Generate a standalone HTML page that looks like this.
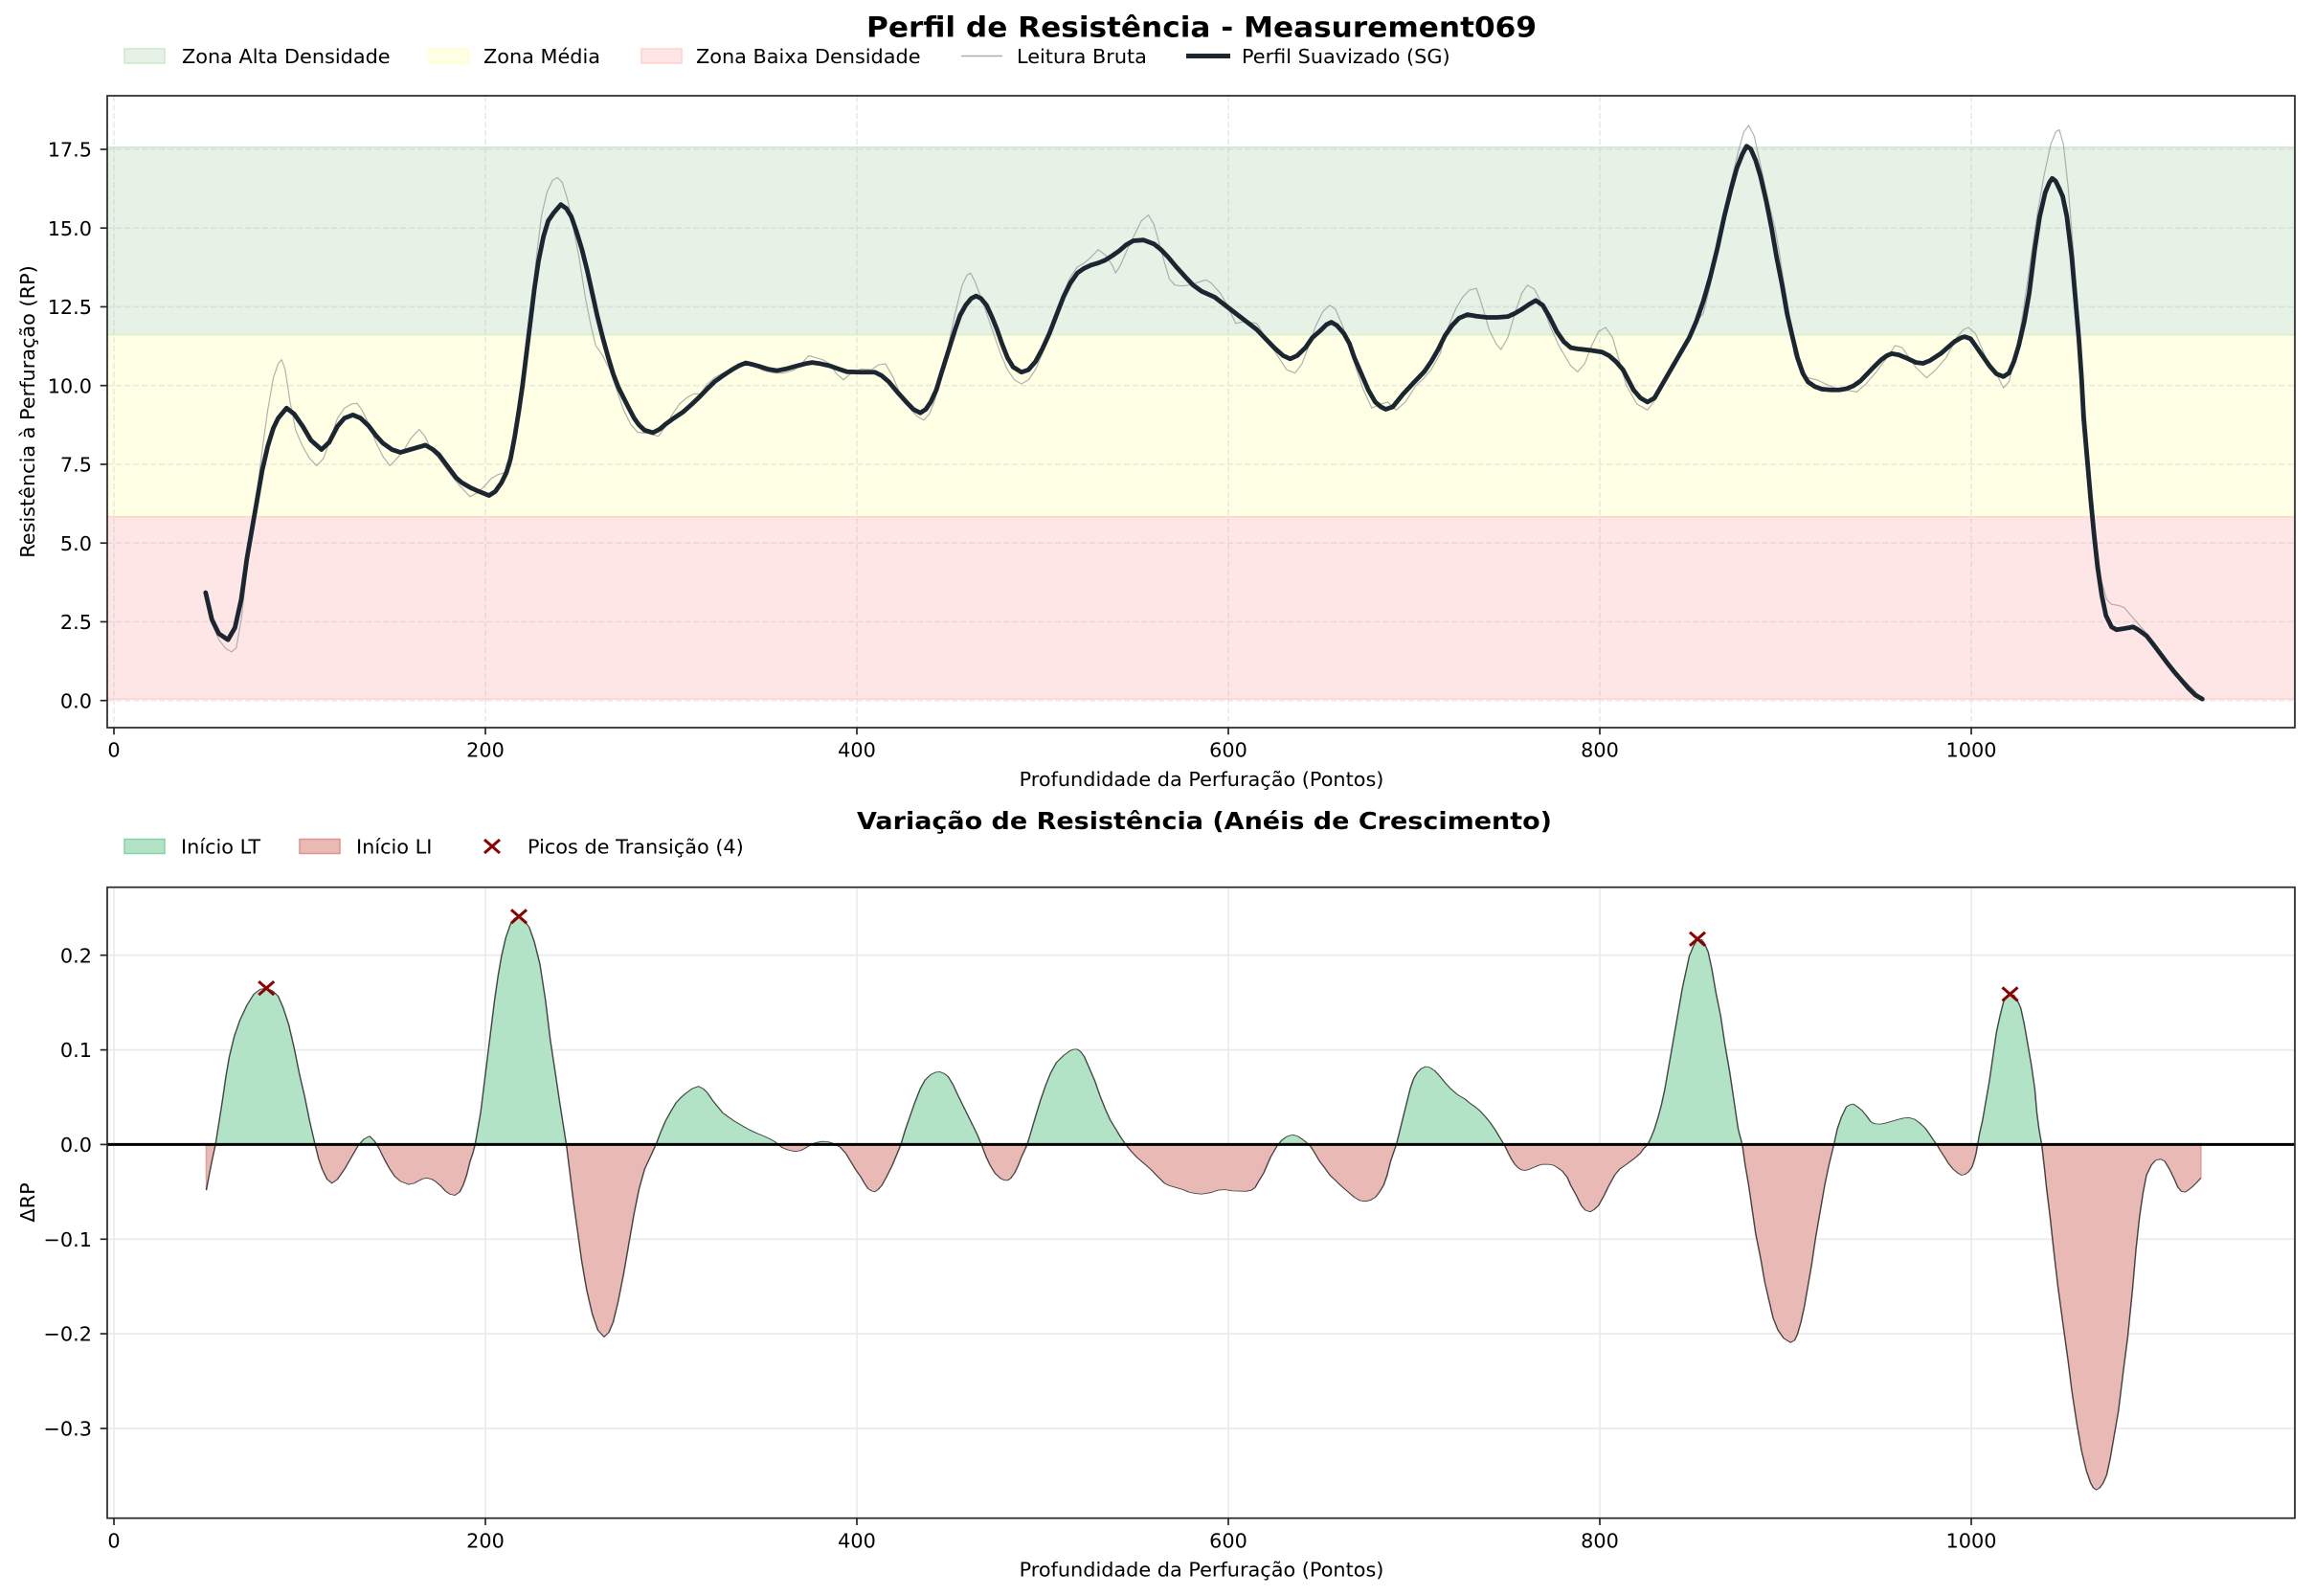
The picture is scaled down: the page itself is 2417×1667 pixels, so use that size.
<!DOCTYPE html>
<html><head><meta charset="utf-8"><style>html,body{margin:0;padding:0;background:#fff}svg{display:block}text{font-family:"DejaVu Sans","Liberation Sans",sans-serif;fill:#000}</style></head><body>
<svg width="2417" height="1667" viewBox="0 0 2417 1667" xmlns="http://www.w3.org/2000/svg">
<rect width="2417" height="1667" fill="#fff"/>
<text x="1255" y="38.5" font-size="29" font-weight="bold" text-anchor="middle" textLength="700" lengthAdjust="spacingAndGlyphs">Perfil de Resistência - Measurement069</text>
<g font-size="20.8">
<rect x="130" y="51" width="42" height="15" fill="#e6f2e6" stroke="#cee6ce" stroke-width="1.5"/><text x="190" y="66">Zona Alta Densidade</text>
<rect x="448" y="51" width="42" height="15" fill="#ffffe6" stroke="#ffffcf" stroke-width="1.5"/><text x="505" y="66">Zona Média</text>
<rect x="670" y="51" width="42" height="15" fill="#ffe6e6" stroke="#ffcfcf" stroke-width="1.5"/><text x="727" y="66">Zona Baixa Densidade</text>
<line x1="1004" y1="58.5" x2="1047" y2="58.5" stroke="#999" stroke-width="1.4" opacity="0.8"/><text x="1062" y="66">Leitura Bruta</text>
<line x1="1239" y1="58.5" x2="1285" y2="58.5" stroke="#1b2631" stroke-width="5"/><text x="1297" y="66">Perfil Suavizado (SG)</text>
</g>
<rect x="112" y="153.9" width="2285" height="195.7" fill="#e6f2e6"/>
<rect x="112" y="349.6" width="2285" height="190.2" fill="#ffffe6"/>
<rect x="112" y="539.8" width="2285" height="190.2" fill="#ffe6e6"/>
<g stroke-width="1.5"><line x1="112" y1="153.9" x2="2397" y2="153.9" stroke="#cee6ce"/><line x1="112" y1="349.6" x2="2397" y2="349.6" stroke="#dcefc4"/><line x1="112" y1="539.8" x2="2397" y2="539.8" stroke="#fcd6c4"/><line x1="112" y1="730" x2="2397" y2="730" stroke="#ffcfcf"/></g>
<g stroke="#b0b0b0" stroke-width="1.7" stroke-dasharray="6.3,2.7" opacity="0.25">
<line x1="119" y1="100" x2="119" y2="760"/><line x1="507" y1="100" x2="507" y2="760"/><line x1="895" y1="100" x2="895" y2="760"/><line x1="1283" y1="100" x2="1283" y2="760"/><line x1="1671" y1="100" x2="1671" y2="760"/><line x1="2059" y1="100" x2="2059" y2="760"/>
<line x1="112" y1="731.7" x2="2397" y2="731.7"/><line x1="112" y1="649.45" x2="2397" y2="649.45"/><line x1="112" y1="567.2" x2="2397" y2="567.2"/><line x1="112" y1="484.95" x2="2397" y2="484.95"/><line x1="112" y1="402.7" x2="2397" y2="402.7"/><line x1="112" y1="320.45" x2="2397" y2="320.45"/><line x1="112" y1="238.2" x2="2397" y2="238.2"/><line x1="112" y1="155.95" x2="2397" y2="155.95"/>
</g>
<g transform="translate(112,100) scale(0.72895,0.42092)" fill="none" stroke-linejoin="round" stroke-linecap="round">
<path vector-effect="non-scaling-stroke" stroke="#999" stroke-width="1.2" opacity="0.75" d="M141,1240 150,1310 160,1350 170,1372 178,1380 185,1370 192,1300 200,1180 208,1060 215,980 222,880 230,780 238,700 245,665 250,655 255,680 262,760 270,830 280,870 290,900 300,918 310,900 320,850 330,800 340,775 350,765 358,763 365,780 375,815 385,860 395,895 405,918 415,900 425,880 435,850 447,828 455,845 465,880 475,900 490,935 505,968 520,995 530,985 540,970 550,950 560,940 570,935 578,920 585,860 592,760 600,640 608,520 615,400 622,300 630,240 638,210 645,203 652,215 660,260 668,330 676,400 685,500 693,570 700,620 710,645 720,680 730,730 740,780 750,815 760,835 775,838 790,845 800,820 810,790 820,765 830,750 840,740 850,740 860,715 870,700 880,690 895,678 905,672 915,660 925,668 940,682 955,688 970,688 985,680 995,665 1005,645 1015,650 1025,655 1035,665 1045,690 1055,705 1065,690 1080,678 1095,680 1105,668 1115,665 1125,695 1135,735 1150,775 1160,795 1170,805 1178,790 1185,760 1195,700 1205,620 1215,540 1225,470 1232,445 1237,440 1243,460 1252,500 1260,540 1270,590 1280,640 1290,680 1300,705 1310,715 1320,705 1330,680 1340,640 1350,590 1360,540 1370,490 1380,450 1390,425 1400,415 1410,400 1420,382 1430,395 1440,420 1445,440 1452,420 1462,380 1472,345 1482,310 1492,296 1500,320 1508,370 1516,420 1522,455 1530,470 1540,472 1550,470 1560,465 1568,460 1575,457 1582,465 1595,490 1605,520 1617,565 1630,560 1647,565 1660,600 1675,640 1690,680 1702,688 1712,665 1722,620 1732,570 1742,535 1752,520 1760,530 1770,570 1780,620 1790,680 1800,730 1812,775 1825,765 1835,760 1847,780 1860,760 1875,720 1887,700 1897,680 1910,640 1920,580 1932,530 1942,500 1952,482 1962,478 1970,520 1980,580 1990,615 1997,630 2007,600 2017,540 2027,490 2035,470 2045,480 2057,520 2067,570 2080,620 2097,670 2107,685 2117,665 2127,620 2137,585 2147,575 2157,600 2167,660 2177,720 2192,765 2207,780 2220,750 2235,700 2247,660 2260,620 2267,600 2277,560 2287,540 2297,470 2307,380 2317,290 2327,210 2337,140 2345,90 2352,73 2360,100 2370,180 2380,260 2390,330 2397,400 2402,460 2410,540 2417,640 2427,690 2437,700 2450,705 2462,715 2475,725 2490,730 2507,735 2520,715 2535,685 2550,650 2562,620 2572,625 2582,650 2592,675 2607,700 2620,680 2635,650 2650,600 2660,580 2667,575 2677,590 2687,630 2697,670 2710,700 2717,725 2725,710 2735,640 2745,540 2755,420 2765,300 2775,200 2785,120 2792,90 2797,84 2803,120 2810,230 2818,400 2827,600 2835,800 2842,950 2850,1100 2857,1200 2865,1250 2872,1262 2882,1265 2890,1270 2900,1290 2910,1310 2920,1330 2930,1350 2945,1385 2960,1420 2975,1450 2990,1475 3002,1497"/>
<path vector-effect="non-scaling-stroke" stroke="#1b2631" stroke-width="4.8" d="M141,1233 150,1300 160,1335 173,1350 183,1320 192,1250 200,1150 208,1070 215,1000 222,930 230,870 238,825 245,800 257,775 268,790 280,820 292,855 307,878 318,860 330,820 340,800 352,792 363,800 375,820 385,843 395,862 408,878 420,885 440,875 456,867 466,877 475,890 490,925 500,948 508,960 520,972 530,980 547,992 556,982 565,960 572,935 578,900 584,845 590,780 595,720 600,650 606,565 612,480 618,410 625,350 632,310 640,290 650,270 658,280 665,300 672,335 680,380 688,435 695,490 702,545 710,600 718,650 725,690 732,722 740,750 748,777 755,800 762,817 770,830 782,836 792,827 800,815 812,800 825,785 838,765 850,745 860,727 870,710 882,695 895,680 905,670 915,663 925,667 935,672 948,679 960,682 972,678 985,672 1000,665 1010,662 1022,665 1035,670 1048,678 1060,685 1080,686 1100,686 1110,695 1120,710 1132,735 1145,760 1155,778 1165,787 1173,778 1180,760 1188,730 1195,690 1205,635 1215,580 1222,545 1230,520 1238,503 1245,497 1252,503 1260,520 1268,550 1275,580 1282,615 1290,650 1298,673 1310,686 1320,680 1330,660 1340,628 1350,590 1360,545 1370,500 1380,465 1390,440 1400,428 1410,420 1420,415 1430,408 1440,397 1450,385 1460,370 1470,360 1485,358 1500,368 1510,382 1520,400 1532,425 1545,450 1556,470 1568,485 1587,500 1617,540 1647,580 1672,625 1685,645 1695,653 1705,645 1717,625 1727,600 1737,585 1747,568 1754,562 1762,570 1772,590 1780,615 1787,650 1797,690 1807,730 1817,760 1825,772 1832,778 1842,772 1857,740 1872,712 1887,685 1897,660 1907,630 1917,595 1927,570 1937,552 1949,543 1962,547 1977,550 1992,550 2007,548 2017,540 2027,530 2037,518 2047,508 2057,520 2067,550 2077,585 2087,610 2097,625 2107,628 2127,632 2142,636 2152,645 2162,660 2172,680 2187,730 2197,750 2207,760 2217,750 2227,720 2237,690 2247,660 2257,630 2267,600 2277,560 2287,510 2297,450 2307,380 2317,300 2327,230 2335,180 2343,145 2349,125 2355,132 2362,160 2369,200 2377,260 2385,330 2392,400 2400,470 2407,540 2415,600 2422,650 2430,690 2437,710 2447,722 2457,728 2470,730 2482,730 2492,727 2502,720 2512,708 2522,690 2532,672 2542,655 2550,645 2557,640 2567,643 2577,650 2592,662 2602,664 2612,657 2627,640 2637,625 2647,610 2657,600 2662,598 2670,603 2677,620 2687,645 2697,670 2707,690 2717,697 2725,688 2732,660 2739,620 2747,560 2754,490 2762,380 2769,300 2777,240 2783,215 2787,205 2792,212 2797,230 2802,250 2808,300 2815,400 2820,500 2825,600 2829,700 2832,800 2837,900 2842,1000 2847,1090 2852,1170 2858,1240 2864,1290 2872,1318 2879,1325 2890,1322 2897,1320 2903,1318 2910,1325 2922,1340 2932,1362 2942,1385 2952,1408 2962,1430 2972,1450 2982,1470 2992,1487 3002,1497"/>
</g>
<rect x="112" y="100" width="2285" height="660" fill="none" stroke="#262626" stroke-width="1.7"/>
<g stroke="#262626" stroke-width="1.7">
<line x1="104.7" y1="731.7" x2="112" y2="731.7"/><line x1="104.7" y1="649.45" x2="112" y2="649.45"/><line x1="104.7" y1="567.2" x2="112" y2="567.2"/><line x1="104.7" y1="484.95" x2="112" y2="484.95"/><line x1="104.7" y1="402.7" x2="112" y2="402.7"/><line x1="104.7" y1="320.45" x2="112" y2="320.45"/><line x1="104.7" y1="238.2" x2="112" y2="238.2"/><line x1="104.7" y1="155.95" x2="112" y2="155.95"/>
<line x1="119" y1="760" x2="119" y2="767.3"/><line x1="507" y1="760" x2="507" y2="767.3"/><line x1="895" y1="760" x2="895" y2="767.3"/><line x1="1283" y1="760" x2="1283" y2="767.3"/><line x1="1671" y1="760" x2="1671" y2="767.3"/><line x1="2059" y1="760" x2="2059" y2="767.3"/>
</g>
<g font-size="20.8" text-anchor="end">
<text x="96" y="739.3">0.0</text><text x="96" y="657">2.5</text><text x="96" y="574.8">5.0</text><text x="96" y="492.5">7.5</text><text x="96" y="410.3">10.0</text><text x="96" y="328">12.5</text><text x="96" y="245.8">15.0</text><text x="96" y="163.5">17.5</text>
</g>
<g font-size="20.8" text-anchor="middle">
<text x="119" y="790.6">0</text><text x="507" y="790.6">200</text><text x="895" y="790.6">400</text><text x="1283" y="790.6">600</text><text x="1671" y="790.6">800</text><text x="2059" y="790.6">1000</text>
<text x="1255" y="821">Profundidade da Perfuração (Pontos)</text>
<text transform="translate(36,430) rotate(-90)">Resistência à Perfuração (RP)</text>
</g>
<text x="1258" y="866" font-size="25" font-weight="bold" text-anchor="middle" textLength="726" lengthAdjust="spacingAndGlyphs">Variação de Resistência (Anéis de Crescimento)</text>
<g font-size="20.8">
<rect x="130" y="876.5" width="42" height="15" fill="#b3e3c7" stroke="#86d2a6" stroke-width="1.5"/><text x="189" y="891.7">Início LT</text>
<rect x="313" y="876.5" width="42" height="15" fill="#e9bab5" stroke="#dc948d" stroke-width="1.5"/><text x="372" y="891.7">Início LI</text>
<path d="M506,877 L522,891 M522,877 L506,891" stroke="#8b0000" stroke-width="3" fill="none"/><text x="551" y="891.7">Picos de Transição (4)</text>
</g>
<g stroke="#b0b0b0" stroke-width="1.7" opacity="0.25">
<line x1="119" y1="927" x2="119" y2="1586"/><line x1="507" y1="927" x2="507" y2="1586"/><line x1="895" y1="927" x2="895" y2="1586"/><line x1="1283" y1="927" x2="1283" y2="1586"/><line x1="1671" y1="927" x2="1671" y2="1586"/><line x1="2059" y1="927" x2="2059" y2="1586"/>
<line x1="112" y1="997.7" x2="2397" y2="997.7"/><line x1="112" y1="1096.6" x2="2397" y2="1096.6"/><line x1="112" y1="1195.4" x2="2397" y2="1195.4"/><line x1="112" y1="1294.3" x2="2397" y2="1294.3"/><line x1="112" y1="1393.1" x2="2397" y2="1393.1"/><line x1="112" y1="1492" x2="2397" y2="1492"/>
</g>
<defs>
<clipPath id="up" clipPathUnits="userSpaceOnUse"><rect x="0" y="-100" width="3200" height="740"/></clipPath>
<clipPath id="dn" clipPathUnits="userSpaceOnUse"><rect x="0" y="640" width="3200" height="1000"/></clipPath>
<path id="dfill" d="M142,640 L142,752 146,715 150,680 155,640 160,585 165,530 170,470 175,420 182,370 190,330 200,293 210,265 219,253 228,250 237,257 245,270 252,298 260,340 268,400 275,460 283,520 290,580 298,640 303,675 308,700 315,725 322,735 330,725 340,700 350,670 360,640 368,625 376,618 383,630 390,650 397,675 405,700 412,718 420,730 432,738 440,735 445,730 452,724 458,722 465,725 470,730 478,742 485,755 491,762 498,765 505,757 510,740 515,715 520,680 524,660 527,640 531,600 535,560 540,490 545,420 550,350 555,280 560,220 565,170 571,125 578,90 584,76 590,72 597,80 605,100 612,135 620,190 628,280 635,380 642,460 648,530 653,585 658,640 663,710 668,780 674,855 680,930 687,1000 695,1060 703,1100 712,1117 719,1105 725,1080 732,1030 740,960 748,880 755,810 762,750 770,700 778,670 786,640 793,608 800,580 808,555 815,535 822,522 830,510 838,500 847,494 854,500 860,510 867,528 875,545 882,560 890,570 900,582 910,592 920,602 930,610 940,617 950,625 957,632 962,640 968,647 975,652 985,656 993,654 998,650 1005,643 1012,636 1018,633 1025,631 1033,632 1040,636 1050,645 1058,660 1065,680 1072,700 1080,720 1085,735 1090,748 1095,754 1100,756 1105,750 1110,740 1117,718 1125,690 1131,665 1137,640 1143,605 1150,570 1157,535 1165,500 1172,478 1180,465 1187,459 1193,458 1199,462 1205,470 1212,490 1220,520 1230,555 1240,590 1247,615 1253,640 1259,668 1265,690 1272,710 1280,723 1285,727 1290,728 1295,722 1300,710 1305,692 1310,670 1314,655 1318,640 1324,605 1330,570 1337,530 1345,490 1352,460 1360,435 1370,418 1380,405 1385,402 1390,402 1395,408 1400,420 1407,448 1415,480 1422,515 1430,550 1437,577 1445,600 1452,620 1460,640 1467,655 1475,670 1485,685 1495,700 1505,718 1515,735 1522,741 1530,745 1540,750 1550,757 1558,760 1568,762 1582,758 1592,752 1602,751 1612,754 1632,755 1640,752 1645,745 1650,730 1657,710 1662,690 1667,670 1672,655 1677,640 1683,628 1689,620 1695,616 1700,615 1706,618 1712,625 1718,633 1725,645 1731,662 1737,680 1745,698 1752,715 1760,728 1767,740 1775,752 1787,770 1795,778 1803,780 1810,777 1817,770 1823,757 1829,740 1834,715 1839,680 1843,660 1847,640 1852,605 1857,570 1862,535 1867,500 1872,475 1877,460 1883,450 1889,445 1895,447 1902,455 1910,470 1917,485 1925,500 1935,515 1945,525 1952,535 1960,545 1967,555 1975,570 1982,585 1988,600 1995,620 2002,640 2007,658 2012,675 2017,688 2022,697 2027,702 2032,703 2038,700 2045,695 2052,690 2057,688 2065,688 2072,690 2078,696 2085,705 2092,720 2097,740 2105,765 2112,790 2118,802 2125,806 2131,800 2137,790 2145,765 2152,740 2160,715 2167,700 2177,688 2187,675 2192,668 2197,660 2202,648 2207,640 2212,622 2217,600 2222,572 2227,540 2232,500 2237,450 2242,400 2247,350 2252,300 2257,250 2262,210 2267,170 2273,145 2279,128 2285,130 2289,140 2294,160 2299,200 2305,260 2312,320 2318,390 2325,460 2331,530 2337,600 2343,640 2347,690 2352,740 2357,800 2362,860 2369,920 2375,980 2381,1025 2387,1070 2394,1100 2402,1120 2412,1131 2418,1125 2422,1110 2427,1080 2432,1040 2437,990 2442,940 2448,870 2455,800 2461,740 2467,690 2474,640 2479,600 2485,570 2492,545 2497,540 2502,538 2508,545 2515,555 2522,570 2527,582 2532,587 2540,588 2547,586 2555,582 2565,577 2574,573 2582,572 2590,576 2597,585 2605,598 2612,615 2617,628 2622,640 2627,655 2632,668 2638,685 2645,700 2652,710 2657,715 2662,713 2667,707 2672,695 2675,680 2678,660 2680,640 2683,610 2687,580 2692,530 2697,480 2702,420 2707,360 2712,320 2717,285 2722,270 2727,265 2732,267 2737,280 2742,300 2747,340 2752,390 2757,440 2762,500 2765,560 2768,600 2772,640 2776,700 2779,750 2784,820 2789,900 2795,990 2802,1080 2810,1180 2815,1250 2822,1330 2829,1400 2836,1450 2842,1480 2846,1492 2850,1497 2855,1492 2860,1480 2865,1460 2870,1420 2876,1360 2882,1300 2889,1200 2895,1120 2902,1000 2907,900 2912,820 2917,760 2922,715 2929,690 2935,678 2942,675 2948,680 2955,700 2962,725 2967,745 2972,755 2977,757 2982,752 2987,745 2993,735 3000,722 L3000,640 Z"/>
<path id="dcurve" d="M142,752 146,715 150,680 155,640 160,585 165,530 170,470 175,420 182,370 190,330 200,293 210,265 219,253 228,250 237,257 245,270 252,298 260,340 268,400 275,460 283,520 290,580 298,640 303,675 308,700 315,725 322,735 330,725 340,700 350,670 360,640 368,625 376,618 383,630 390,650 397,675 405,700 412,718 420,730 432,738 440,735 445,730 452,724 458,722 465,725 470,730 478,742 485,755 491,762 498,765 505,757 510,740 515,715 520,680 524,660 527,640 531,600 535,560 540,490 545,420 550,350 555,280 560,220 565,170 571,125 578,90 584,76 590,72 597,80 605,100 612,135 620,190 628,280 635,380 642,460 648,530 653,585 658,640 663,710 668,780 674,855 680,930 687,1000 695,1060 703,1100 712,1117 719,1105 725,1080 732,1030 740,960 748,880 755,810 762,750 770,700 778,670 786,640 793,608 800,580 808,555 815,535 822,522 830,510 838,500 847,494 854,500 860,510 867,528 875,545 882,560 890,570 900,582 910,592 920,602 930,610 940,617 950,625 957,632 962,640 968,647 975,652 985,656 993,654 998,650 1005,643 1012,636 1018,633 1025,631 1033,632 1040,636 1050,645 1058,660 1065,680 1072,700 1080,720 1085,735 1090,748 1095,754 1100,756 1105,750 1110,740 1117,718 1125,690 1131,665 1137,640 1143,605 1150,570 1157,535 1165,500 1172,478 1180,465 1187,459 1193,458 1199,462 1205,470 1212,490 1220,520 1230,555 1240,590 1247,615 1253,640 1259,668 1265,690 1272,710 1280,723 1285,727 1290,728 1295,722 1300,710 1305,692 1310,670 1314,655 1318,640 1324,605 1330,570 1337,530 1345,490 1352,460 1360,435 1370,418 1380,405 1385,402 1390,402 1395,408 1400,420 1407,448 1415,480 1422,515 1430,550 1437,577 1445,600 1452,620 1460,640 1467,655 1475,670 1485,685 1495,700 1505,718 1515,735 1522,741 1530,745 1540,750 1550,757 1558,760 1568,762 1582,758 1592,752 1602,751 1612,754 1632,755 1640,752 1645,745 1650,730 1657,710 1662,690 1667,670 1672,655 1677,640 1683,628 1689,620 1695,616 1700,615 1706,618 1712,625 1718,633 1725,645 1731,662 1737,680 1745,698 1752,715 1760,728 1767,740 1775,752 1787,770 1795,778 1803,780 1810,777 1817,770 1823,757 1829,740 1834,715 1839,680 1843,660 1847,640 1852,605 1857,570 1862,535 1867,500 1872,475 1877,460 1883,450 1889,445 1895,447 1902,455 1910,470 1917,485 1925,500 1935,515 1945,525 1952,535 1960,545 1967,555 1975,570 1982,585 1988,600 1995,620 2002,640 2007,658 2012,675 2017,688 2022,697 2027,702 2032,703 2038,700 2045,695 2052,690 2057,688 2065,688 2072,690 2078,696 2085,705 2092,720 2097,740 2105,765 2112,790 2118,802 2125,806 2131,800 2137,790 2145,765 2152,740 2160,715 2167,700 2177,688 2187,675 2192,668 2197,660 2202,648 2207,640 2212,622 2217,600 2222,572 2227,540 2232,500 2237,450 2242,400 2247,350 2252,300 2257,250 2262,210 2267,170 2273,145 2279,128 2285,130 2289,140 2294,160 2299,200 2305,260 2312,320 2318,390 2325,460 2331,530 2337,600 2343,640 2347,690 2352,740 2357,800 2362,860 2369,920 2375,980 2381,1025 2387,1070 2394,1100 2402,1120 2412,1131 2418,1125 2422,1110 2427,1080 2432,1040 2437,990 2442,940 2448,870 2455,800 2461,740 2467,690 2474,640 2479,600 2485,570 2492,545 2497,540 2502,538 2508,545 2515,555 2522,570 2527,582 2532,587 2540,588 2547,586 2555,582 2565,577 2574,573 2582,572 2590,576 2597,585 2605,598 2612,615 2617,628 2622,640 2627,655 2632,668 2638,685 2645,700 2652,710 2657,715 2662,713 2667,707 2672,695 2675,680 2678,660 2680,640 2683,610 2687,580 2692,530 2697,480 2702,420 2707,360 2712,320 2717,285 2722,270 2727,265 2732,267 2737,280 2742,300 2747,340 2752,390 2757,440 2762,500 2765,560 2768,600 2772,640 2776,700 2779,750 2784,820 2789,900 2795,990 2802,1080 2810,1180 2815,1250 2822,1330 2829,1400 2836,1450 2842,1480 2846,1492 2850,1497 2855,1492 2860,1480 2865,1460 2870,1420 2876,1360 2882,1300 2889,1200 2895,1120 2902,1000 2907,900 2912,820 2917,760 2922,715 2929,690 2935,678 2942,675 2948,680 2955,700 2962,725 2967,745 2972,755 2977,757 2982,752 2987,745 2993,735 3000,722"/>
</defs>
<g transform="translate(112,927) scale(0.72895,0.42028)">
<g clip-path="url(#up)"><use href="#dfill" fill="#b3e3c7" stroke="none"/></g>
<g clip-path="url(#dn)"><use href="#dfill" fill="#e9bab5" stroke="none"/></g>
<path d="M142,640 L142,752 M3000,640 L3000,722" vector-effect="non-scaling-stroke" stroke="#dca09a" stroke-width="1.5" fill="none"/>
<use href="#dcurve" fill="none" stroke="#000" stroke-opacity="0.7" stroke-width="2" vector-effect="non-scaling-stroke" stroke-linejoin="round"/>
</g>
<line x1="112" y1="1195.4" x2="2397" y2="1195.4" stroke="#000" stroke-width="3"/>
<g stroke="#8b0000" stroke-width="3" fill="none">
<path d="M270.2,1025.1 L286.2,1039.1 M286.2,1025.1 L270.2,1039.1"/>
<path d="M534,950.3 L550,964.3 M550,950.3 L534,964.3"/>
<path d="M1765,973.8 L1781,987.8 M1781,973.8 L1765,987.8"/>
<path d="M2091.5,1031.4 L2107.5,1045.4 M2107.5,1031.4 L2091.5,1045.4"/>
</g>
<rect x="112" y="926.7" width="2285" height="659" fill="none" stroke="#262626" stroke-width="1.7"/>
<g stroke="#262626" stroke-width="1.7">
<line x1="104.7" y1="997.7" x2="112" y2="997.7"/><line x1="104.7" y1="1096.6" x2="112" y2="1096.6"/><line x1="104.7" y1="1195.4" x2="112" y2="1195.4"/><line x1="104.7" y1="1294.3" x2="112" y2="1294.3"/><line x1="104.7" y1="1393.1" x2="112" y2="1393.1"/><line x1="104.7" y1="1492" x2="112" y2="1492"/>
<line x1="119" y1="1585.7" x2="119" y2="1593"/><line x1="507" y1="1585.7" x2="507" y2="1593"/><line x1="895" y1="1585.7" x2="895" y2="1593"/><line x1="1283" y1="1585.7" x2="1283" y2="1593"/><line x1="1671" y1="1585.7" x2="1671" y2="1593"/><line x1="2059" y1="1585.7" x2="2059" y2="1593"/>
</g>
<g font-size="20.8" text-anchor="end">
<text x="96" y="1005.3">0.2</text><text x="96" y="1104.2">0.1</text><text x="96" y="1203">0.0</text><text x="96" y="1301.9">−0.1</text><text x="96" y="1400.7">−0.2</text><text x="96" y="1499.6">−0.3</text>
</g>
<g font-size="20.8" text-anchor="middle">
<text x="119" y="1616.6">0</text><text x="507" y="1616.6">200</text><text x="895" y="1616.6">400</text><text x="1283" y="1616.6">600</text><text x="1671" y="1616.6">800</text><text x="2059" y="1616.6">1000</text>
<text x="1255" y="1646.5">Profundidade da Perfuração (Pontos)</text>
<text transform="translate(36,1256) rotate(-90)">ΔRP</text>
</g>
</svg>
</body></html>
